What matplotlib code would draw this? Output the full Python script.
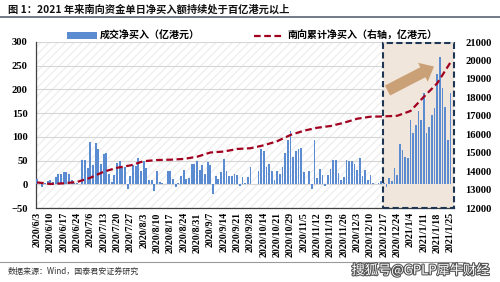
import matplotlib
matplotlib.use('Agg')
import matplotlib.pyplot as plt
import numpy as np
from matplotlib.patches import Rectangle, FancyArrowPatch, Patch
from matplotlib.lines import Line2D
import matplotlib.transforms as mtransforms
import matplotlib.patheffects as pe

CJK = ['Noto Sans CJK SC', 'DejaVu Sans']
NUM = 'Liberation Serif'

# ---- data ----
tick_labels = ['2020/6/3', '2020/6/10', '2020/6/17', '2020/6/24', '2020/7/6', '2020/7/13',
               '2020/7/20', '2020/7/27', '2020/8/3', '2020/8/10', '2020/8/17', '2020/8/24',
               '2020/8/31', '2020/9/7', '2020/9/14', '2020/9/21', '2020/9/28', '2020/10/14',
               '2020/10/21', '2020/10/29', '2020/11/5', '2020/11/12', '2020/11/19', '2020/11/26',
               '2020/12/3', '2020/12/10', '2020/12/17', '2020/12/24', '2021/1/4', '2021/1/11',
               '2021/1/18', '2021/1/25']

# daily southbound net buy (亿港元), one value per trading day
net_buy = [11, 4, -6, 3, 6, 9, 5, 16, 22, 21,
           25, 25, 22, 8, 2, 3, 1, 51, 51, 35,
           90, 40, 88, 75, 43, 63, 66, 22, 5, 20,
           45, 50, 35, 37, -10, 18, 40, 38, 55, 28,
           50, 35, 10, 8, -15, 28, 5, 2, 0, 27,
           27, 12, -5, 3, 17, 30, 12, 14, 43, 43,
           50, 30, 40, 22, 48, 40, -20, 18, 12, 25,
           53, 27, 18, 18, 22, 20, -4, 15, 2, 16,
           36, 1, 1, 28, 74, 70, 37, 42, 27, 10,
           27, 21, 36, 67, 94, 113, 58, 70, 74, 77,
           25, 0, 27, -10, 93, 14, 32, 20, -4, 20,
           33, 51, 51, 23, 9, 15, 52, 50, 49, 43,
           30, 55, 17, 30, 9, 20, 2, 0, 3, 6,
           3, -5, 14, 7, 34, 20, 85, 73, 58, 56,
           136, 108, 125, 155, 136, 192, 108, 120, 146, 160,
           232, 268, 204, 162, 94, 192]

# cumulative southbound net buy (亿港元, right axis) at each labelled date
cum_values = [13390, 13300, 13340, 13410, 13640, 13970, 14180, 14310, 14540, 14600,
              14620, 14660, 14780, 15010, 15060, 15200, 15240, 15400, 15620, 15960,
              16190, 16350, 16445, 16620, 16840, 16950, 16965, 17000, 17260, 18030,
              18760, 19900]

title = '图 1：2021 年来南向资金单日净买入额持续处于百亿港元以上'
bar_label = '成交净买入（亿港元）'
line_label = '南向累计净买入（右轴，亿港元）'
source = '数据来源：Wind，国泰君安证券研究'

# ---- figure ----
fig = plt.figure(figsize=(5.0, 2.82), dpi=100)
W, H = 500.0, 282.0
L, R, T, B = 36, 454, 42, 208
ax = fig.add_axes([L / W, 1 - B / H, (R - L) / W, (B - T) / H])

x = np.arange(len(net_buy))
n = len(net_buy)

# hatched background
ax.add_patch(Rectangle((0, 0), 1, 1, transform=ax.transAxes, facecolor='white',
                       edgecolor='#efefef', hatch='////', lw=0, zorder=0))

ax.set_xlim(-0.4, n - 1 + 1.3)
ax.set_ylim(-50, 300)
ax.set_yticks(np.arange(-50, 301, 50))
ax.grid(axis='y', color='#d6d6d6', lw=0.8, zorder=1)
ax.set_axisbelow(True)

# shaded highlight region
box_start = 129.7
trans = mtransforms.blended_transform_factory(ax.transData, ax.transAxes)
ax.add_patch(Rectangle((box_start, 0), n - 1 + 1.3 - box_start - 0.15, 0.995, transform=trans,
                       facecolor='#f1e6db', edgecolor='none', zorder=1.5))

ax.bar(x, net_buy, width=0.72, color='#5b8bd0', edgecolor='none', zorder=3)

ax.set_xticks(x[::5])
ax.set_xticklabels(tick_labels, rotation=90, fontfamily=NUM, fontweight='bold', fontsize=7.2)
ax.tick_params(axis='x', length=0, pad=3)
ax.tick_params(axis='y', length=0, pad=6)
for lab in ax.get_yticklabels():
    lab.set_fontfamily(NUM); lab.set_fontweight('bold'); lab.set_fontsize(7.6)

for s in ['top', 'right']:
    ax.spines[s].set_visible(False)
for s in ['left', 'bottom']:
    ax.spines[s].set_color('#404040'); ax.spines[s].set_linewidth(0.9)

ax2 = ax.twinx()
ax2.set_ylim(12000, 21000)
ax2.set_yticks(np.arange(12000, 21001, 1000))
ax2.plot(x[::5], cum_values, color='#a2001f', lw=1.6, ls=(0, (3, 1.6)), zorder=4)
ax2.tick_params(axis='y', length=0, pad=8)
for lab in ax2.get_yticklabels():
    lab.set_fontfamily(NUM); lab.set_fontweight('bold'); lab.set_fontsize(7.6)
for s in ax2.spines.values():
    s.set_visible(False)

# dashed border of the highlight box
trans2 = mtransforms.blended_transform_factory(ax2.transData, ax2.transAxes)
ax2.add_patch(Rectangle((box_start, 0.002), n - 1 + 1.3 - box_start - 0.15, 0.993, transform=trans2,
                        facecolor='none', edgecolor='#1e3553', lw=1.5, ls=(0, (3, 1.6)),
                        zorder=5, clip_on=False))

# arrow
arr = FancyArrowPatch((0.835, 0.70), (0.958, 0.86), transform=ax2.transAxes,
                      arrowstyle='simple,head_width=1.7,head_length=1.0,tail_width=0.9',
                      mutation_scale=9, color='#c49466', alpha=0.85, lw=0, zorder=6)
ax2.add_patch(arr)

# legend
handles = [Patch(facecolor='#5b8bd0', edgecolor='none'),
           Line2D([0], [0], color='#a2001f', lw=1.6, ls=(0, (3, 1.6)))]
fig.legend(handles, [bar_label, line_label], loc='center', bbox_to_anchor=(0.504, 1 - 36 / H),
           ncol=2, frameon=False, prop={'family': CJK, 'size': 7.2, 'weight': 'bold'},
           handlelength=3.0, handleheight=0.7, handletextpad=0.3, columnspacing=5.4,
           borderpad=0, borderaxespad=0)

# title, rules, source
fig.text(8 / W, 1 - 10 / H, title, fontfamily=CJK, fontweight='bold', fontsize=7.4,
         ha='left', va='center', color='#111111')
fig.add_artist(Line2D([0, 1], [1 - 17 / H, 1 - 17 / H], transform=fig.transFigure,
                      color='#4a5666', lw=1.1))
fig.add_artist(Line2D([0, 0.93], [1 - 262 / H, 1 - 262 / H], transform=fig.transFigure,
                      color='#9a9a9a', lw=0.8))
fig.text(8 / W, 1 - 271 / H, source, fontfamily=CJK, fontsize=5.8, ha='left', va='center',
         color='#333333')
fig.text(490 / W, 1 - 270 / H, '搜狐号@GPLP犀牛财经', fontfamily=CJK, fontsize=9.5,
         ha='right', va='center', color='white',
         path_effects=[pe.withStroke(linewidth=1.6, foreground='#555555')])

fig.savefig('out.png', dpi=100)
